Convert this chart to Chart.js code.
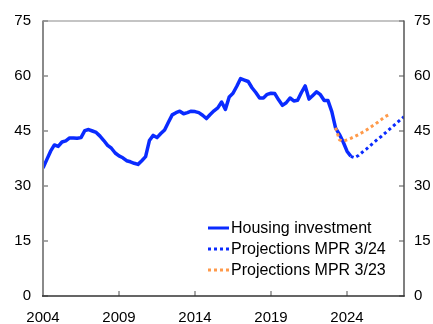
<!DOCTYPE html>
<html>
<head>
<meta charset="utf-8">
<script src="https://cdn.jsdelivr.net/npm/chart.js@4/dist/chart.umd.min.js"></script>
<style>
  html, body { margin: 0; padding: 0; background: #fff; }
  #wrap { width: 433px; height: 324px; }
</style>
</head>
<body>
<div id="wrap"><canvas id="chart" width="433" height="324"></canvas></div>
<script>
// Quarterly series, index 0 = 2004 Q1
const yearLabels = ["2004", "2009", "2014", "2019", "2024"];
const yearTicks = [0, 20, 40, 60, 80];
const yTicks = [0, 15, 30, 45, 60, 75];

const housing = [
  34.9, 37.2, 39.5, 41.2, 40.8, 42.0, 42.3, 43.1, 43.1, 43.0,
  43.2, 45.1, 45.4, 45.0, 44.6, 43.6, 42.4, 41.1, 40.3, 39.0,
  38.2, 37.7, 36.9, 36.6, 36.2, 35.9, 36.9, 38.0, 42.4, 43.8,
  43.2, 44.3, 45.3, 47.4, 49.4, 50.0, 50.4, 49.7, 50.0, 50.4,
  50.3, 50.0, 49.3, 48.4, 49.5, 50.5, 51.3, 52.9, 50.9, 54.3,
  55.3, 57.2, 59.3, 58.9, 58.5, 56.8, 55.5, 54.0, 54.0, 55.0,
  55.3, 55.2, 53.5, 52.0, 52.7, 54.0, 53.2, 53.4, 55.5, 57.3,
  53.7, 54.7, 55.7, 54.9, 53.3, 53.3, 50.3, 45.8, 44.1, 42.0,
  39.5, 38.1
];
const proj24Start = 81;
const proj24 = [38.1, 37.7, 38.3, 39.2, 40.0, 40.9, 41.8, 42.7, 43.5, 44.4, 45.3, 46.2, 47.1, 48.0, 48.9];
const proj23Start = 77;
const proj23 = [45.9, 42.6, 42.2, 42.6, 43.0, 43.5, 44.0, 44.6, 45.2, 45.9, 46.6, 47.3, 48.1, 48.9, 49.4];

const FONT = "'Liberation Sans', Arial, sans-serif";
const BLUE = "#0a2bff";
const ORANGE = "#ff9a4a";

const toPoints = (arr, start) => arr.map((v, i) => ({ x: start + i, y: v }));

// box round the plot with short inward tick marks
const boxPlugin = {
  id: "box",
  afterDatasetsDraw(chart) {
    const ctx = chart.ctx;
    const area = chart.chartArea;
    const sx = chart.scales.x, sy = chart.scales.y;
    const l = Math.round(area.left), r = Math.round(area.right);
    const t = Math.round(area.top), b = Math.round(area.bottom);
    ctx.save();
    ctx.fillStyle = "#8a8a8a";
    ctx.fillRect(l, t - 0.5, r - l, 1);          // top
    ctx.fillRect(l - 1, t - 0.5, 2, b - t + 1);   // left
    yTicks.forEach(v => {
      const y = Math.round(sy.getPixelForValue(v));
      ctx.fillRect(l, y - 0.75, 5, 1.5);
      ctx.fillRect(r - 5, y - 0.75, 5, 1.5);
    });
    yearTicks.forEach(v => {
      const x = Math.round(sx.getPixelForValue(v));
      ctx.fillRect(x - 0.75, b - 5, 1.5, 5);
    });
    ctx.fillStyle = "#555";
    ctx.fillRect(r - 0.75, t - 0.5, 1.5, b - t + 1); // right
    ctx.fillStyle = "#333";
    ctx.fillRect(l - 1, b - 0.75, r - l + 1.75, 1.5); // bottom
    ctx.restore();
  }
};

// legend in the lower right of the plot
const legendPlugin = {
  id: "legendBox",
  afterDraw(chart) {
    const ctx = chart.ctx;
    ctx.save();
    ctx.font = "16px " + FONT;
    ctx.textBaseline = "middle";
    ctx.textAlign = "left";
    ctx.fillStyle = "#000";
    chart.data.datasets.forEach((ds, i) => {
      const y = 228 + i * 21;
      ctx.beginPath();
      ctx.strokeStyle = ds.borderColor;
      ctx.lineWidth = 3;
      ctx.setLineDash(ds.borderDash || []);
      ctx.moveTo(208, y); ctx.lineTo(229, y);
      ctx.stroke();
      ctx.setLineDash([]);
      ctx.fillText(ds.label, 231, y + 1);
    });
    ctx.restore();
  }
};

const yAxis = (position) => ({
  type: "linear",
  position,
  min: 0, max: 75,
  afterBuildTicks: s => { s.ticks = yTicks.map(v => ({ value: v })); },
  afterFit: s => { s.width = position === "left" ? 43 : 29; },
  grid: { display: false, drawTicks: false },
  border: { display: false },
  ticks: { color: "#000", font: { family: FONT, size: 15 }, padding: position === "left" ? 12 : 10 }
});

new Chart(document.getElementById("chart"), {
  type: "line",
  data: {
    datasets: [
      { label: "Housing investment", data: toPoints(housing, 0), borderColor: BLUE, borderWidth: 3.5, order: 2 },
      { label: "Projections MPR 3/24", data: toPoints(proj24, proj24Start), borderColor: BLUE, borderWidth: 3, borderDash: [3, 3], order: 1 },
      { label: "Projections MPR 3/23", data: toPoints(proj23, proj23Start), borderColor: ORANGE, borderWidth: 3, borderDash: [3, 3], order: 0 }
    ]
  },
  options: {
    responsive: false,
    animation: false,
    devicePixelRatio: 1,
    layout: { padding: { top: 18, right: 0, bottom: 0, left: 0 } },
    elements: { point: { radius: 0 }, line: { tension: 0, borderCapStyle: "butt", borderJoinStyle: "round" } },
    plugins: { legend: { display: false }, tooltip: { enabled: false } },
    scales: {
      x: {
        type: "linear",
        min: 0, max: 95,
        afterBuildTicks: s => { s.ticks = yearTicks.map(v => ({ value: v })); },
        afterFit: s => { s.height = 28; },
        grid: { display: false, drawTicks: false },
        border: { display: false },
        ticks: {
          color: "#000", font: { family: FONT, size: 15 }, padding: 13, maxRotation: 0,
          callback: v => yearLabels[yearTicks.indexOf(v)]
        }
      },
      y: yAxis("left"),
      y2: yAxis("right")
    }
  },
  plugins: [boxPlugin, legendPlugin]
});
</script>
</body>
</html>
